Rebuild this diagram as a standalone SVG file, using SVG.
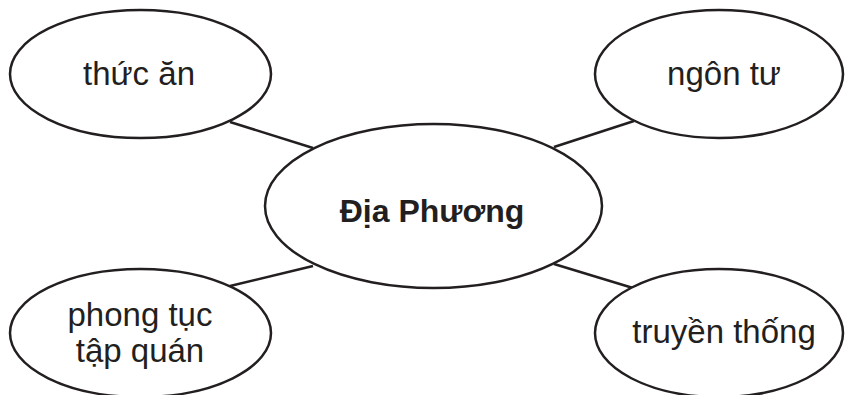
<svg xmlns="http://www.w3.org/2000/svg" width="845" height="395" viewBox="0 0 845 395">
<style>
.n{fill:#fff;stroke:#231f20;stroke-width:2.5}
.c{stroke:#231f20;stroke-width:2.5;fill:none}
.t{font-family:"Liberation Sans",Arial,sans-serif;font-size:33px;fill:#231f20;text-anchor:middle}
.b{font-weight:bold;font-size:32px}
</style>
<rect width="845" height="395" fill="#fff"/>
<g id="connectors">
<line class="c" x1="230" y1="122" x2="313" y2="148"/>
<line class="c" x1="554" y1="147" x2="634" y2="121"/>
<line class="c" x1="230" y1="286" x2="313" y2="266"/>
<line class="c" x1="554" y1="264" x2="633" y2="288"/>
</g>
<g id="center">
<ellipse class="n" cx="433.5" cy="206" rx="168.5" ry="82"/>
<text class="t b" x="432" y="222">Địa Phương</text>
</g>
<g id="thuc-an">
<ellipse class="n" cx="140.5" cy="74" rx="130.5" ry="64"/>
<text class="t" x="139" y="85">thức ăn</text>
</g>
<g id="ngon-tu">
<ellipse class="n" cx="719" cy="74" rx="124" ry="64"/>
<text class="t" x="724" y="85">ngôn tư</text>
</g>
<g id="phong-tuc">
<ellipse class="n" cx="140.5" cy="333" rx="130.5" ry="64"/>
<text class="t" x="140" y="326">phong tục</text>
<text class="t" x="140" y="362">tập quán</text>
</g>
<g id="truyen-thong">
<ellipse class="n" cx="719" cy="333" rx="124" ry="64"/>
<text class="t" x="724" y="343">truyền thống</text>
</g>
</svg>
